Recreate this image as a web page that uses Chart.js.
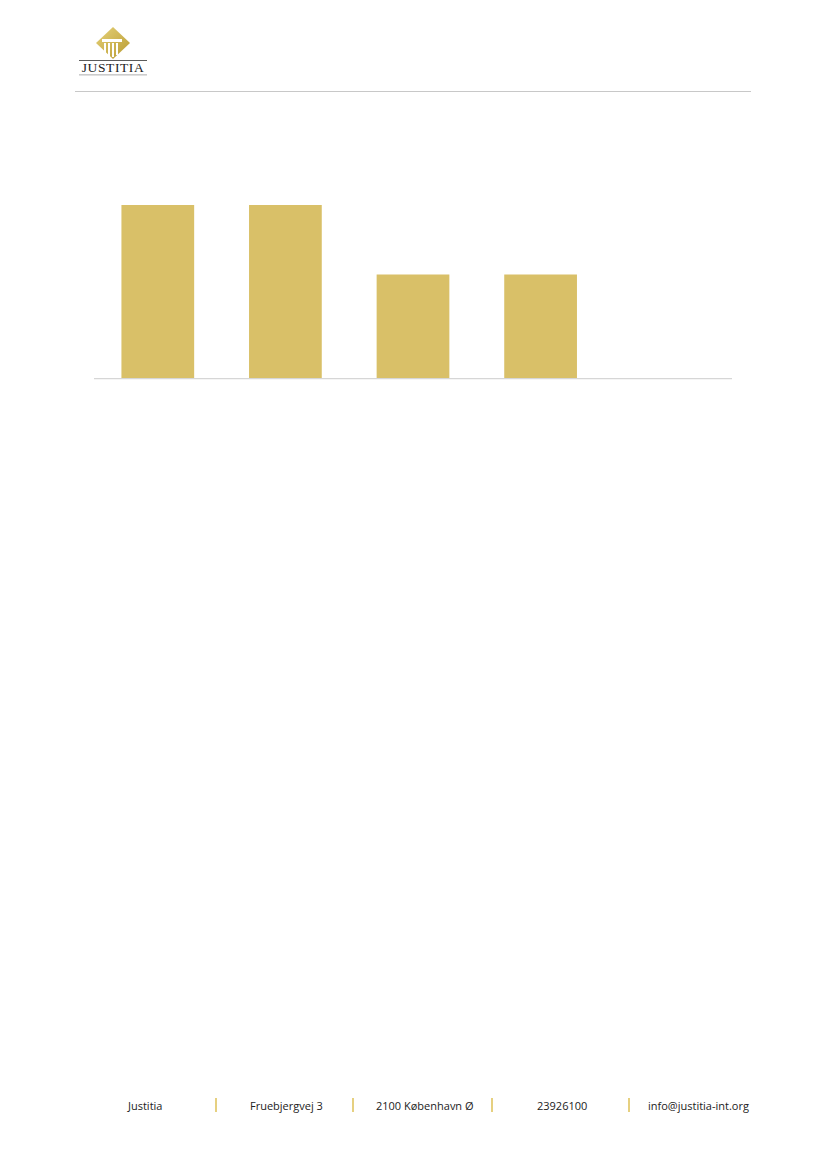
<!DOCTYPE html>
<html>
<head>
<meta charset="utf-8">
<script src="https://cdn.jsdelivr.net/npm/chart.js@4.4.1/dist/chart.umd.min.js"></script>
<style>
  html, body { margin: 0; padding: 0; background: #fff; }
  body { width: 826px; height: 1169px; position: relative; overflow: hidden; font-family: "Open Sans", "Noto Sans", sans-serif; }
  #logo { position: absolute; left: 76px; top: 26px; width: 74px; height: 52px; }
  #rule { position: absolute; left: 75px; top: 91px; width: 676px; height: 1px; background: #c8c8c8; }
  #chartBox { position: absolute; left: 94px; top: 205px; width: 638px; height: 177px; }
  .foot { position: absolute; top: 1098px; font-size: 11px; color: #222; white-space: nowrap; }
  .sep { position: absolute; top: 1098px; width: 2px; height: 14px; background: #e6d080; }
</style>
</head>
<body>
<svg id="logo" viewBox="0 0 74 52">
  <defs>
    <linearGradient id="g" x1="0" y1="0" x2="1" y2="1">
      <stop offset="0" stop-color="#e6d27a"/>
      <stop offset="1" stop-color="#b89a30"/>
    </linearGradient>
  </defs>
  <polygon points="37,1 54,17 37,33 20,17" fill="url(#g)"/>
  <rect x="26" y="13" width="20" height="3" fill="#fff"/>
  <rect x="28" y="17" width="2" height="12" fill="#fff"/>
  <rect x="32" y="17" width="2" height="14" fill="#fff"/>
  <rect x="36" y="17" width="2" height="14" fill="#fff"/>
  <rect x="40" y="17" width="2" height="12" fill="#fff"/>
  <rect x="3" y="34" width="68" height="0.8" fill="#333"/>
  <text x="37" y="46" text-anchor="middle" font-family="Liberation Serif, DejaVu Serif, serif" font-size="13.5" letter-spacing="0.6" fill="#222">JUSTITIA</text>
  <rect x="3" y="48.5" width="68" height="0.8" fill="#999"/>
</svg>
<div id="rule"></div>

<div id="chartBox"><canvas id="chart"></canvas></div>

<div class="foot" style="left:128px">Justitia</div>
<div class="sep" style="left:215px"></div>
<div class="foot" style="left:250px">Fruebjergvej 3</div>
<div class="sep" style="left:352px"></div>
<div class="foot" style="left:376px">2100 København Ø</div>
<div class="sep" style="left:491px"></div>
<div class="foot" style="left:537px">23926100</div>
<div class="sep" style="left:628px"></div>
<div class="foot" style="left:648px">info@justitia-int.org</div>

<script>
// chart data
const categories = ['A', 'B', 'C', 'D', 'E'];
const values = [5, 5, 3, 3, 0];
const barColor = '#d9c068';

const ctx = document.getElementById('chart').getContext('2d');
new Chart(ctx, {
    type: 'bar',
    data: {
        labels: categories,
        datasets: [{
            data: values,
            backgroundColor: barColor,
            borderWidth: 0,
            barPercentage: 0.57,
            categoryPercentage: 1
        }]
    },
    options: {
        responsive: true,
        maintainAspectRatio: false,
        animation: false,
        layout: { padding: { left: 0, right: 0, top: 0, bottom: 3 } },
        scales: {
            x: {
                grid: { display: false, drawTicks: false },
                ticks: { display: false },
                border: { display: true, color: '#d6d6d6', width: 1.2, z: 1 }
            },
            y: {
                display: false,
                min: 0,
                max: 5
            }
        },
        plugins: {
            legend: { display: false },
            tooltip: { enabled: false }
        }
    }
});
</script>
</body>
</html>
